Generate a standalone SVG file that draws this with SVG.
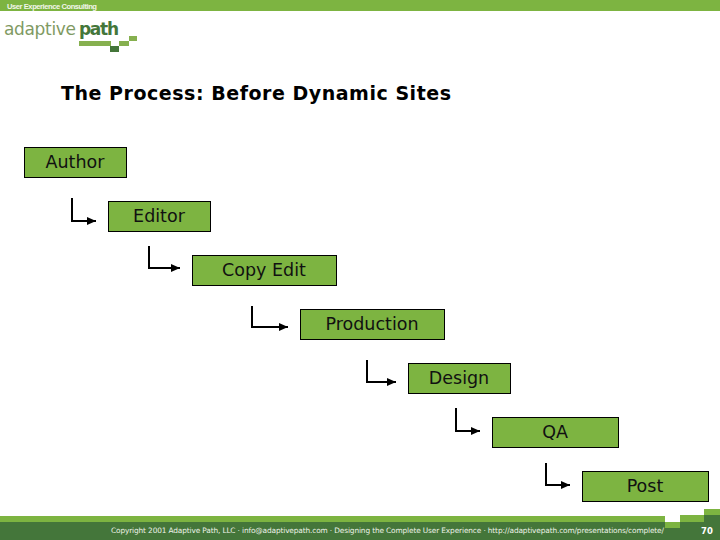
<svg xmlns="http://www.w3.org/2000/svg" width="720" height="540" viewBox="0 0 720 540">
<defs>
<marker id="arr" markerUnits="userSpaceOnUse" markerWidth="10" markerHeight="8" refX="9" refY="4" orient="auto"><path d="M0 0L9 4L0 8Z" fill="#000"/></marker>
</defs>
<style>
.box{fill:#7db441;stroke:#000;stroke-width:1}
.lbl{font-family:"DejaVu Sans",Verdana,sans-serif;font-size:17.5px;fill:#111;text-anchor:middle}
.c{fill:none;stroke:#000;stroke-width:2;marker-end:url(#arr)}
.foot{font-family:"DejaVu Sans",Verdana,sans-serif;font-size:7.4px;fill:#eef3e8}
</style>
<rect width="720" height="540" fill="#fff"/>
<g id="header">
<rect width="720" height="11" fill="#7db441"/>
<text x="7" y="9" font-family="Liberation Sans,sans-serif" font-size="7.6" font-weight="bold" fill="#f2f6ea" textLength="90">User Experience Consulting</text>
<text x="4" y="35" font-family="DejaVu Sans,sans-serif" font-size="17" fill="#7f9a63" textLength="72">adaptive</text>
<text x="79" y="35" font-family="DejaVu Sans,sans-serif" font-size="17" font-weight="bold" fill="#44763a" textLength="40">path</text>
<rect x="79" y="41" width="32" height="5" fill="#86b04f"/>
<rect x="119" y="41" width="10" height="5" fill="#86b04f"/>
<rect x="129" y="36" width="8" height="5" fill="#86b04f"/>
<rect x="110" y="46" width="9" height="6" fill="#44763a"/>
</g>
<text id="title" x="61" y="100" font-family="DejaVu Sans,sans-serif" font-size="19" font-weight="bold" fill="#000" textLength="390">The Process: Before Dynamic Sites</text>
<g id="connectors">
<path class="c" d="M72 198V221H96"/>
<path class="c" d="M149 246V268H180"/>
<path class="c" d="M252 306V327H288"/>
<path class="c" d="M367 360V382H396"/>
<path class="c" d="M456 408V431H480"/>
<path class="c" d="M546 463V485H570"/>
</g>
<g id="author"><rect class="box" x="24.500" y="147.500" width="102" height="30"/><text class="lbl" x="75" y="168">Author</text></g>
<g id="editor"><rect class="box" x="108.500" y="201.500" width="102" height="30"/><text class="lbl" x="159" y="222">Editor</text></g>
<g id="copy-edit"><rect class="box" x="192.500" y="255.500" width="144" height="30"/><text class="lbl" x="264" y="276">Copy Edit</text></g>
<g id="production"><rect class="box" x="300.500" y="309.500" width="144" height="30"/><text class="lbl" x="372" y="330">Production</text></g>
<g id="design"><rect class="box" x="408.500" y="363.500" width="102" height="30"/><text class="lbl" x="459" y="384">Design</text></g>
<g id="qa"><rect class="box" x="492.500" y="417.500" width="126" height="30"/><text class="lbl" x="555" y="438">QA</text></g>
<g id="post"><rect class="box" x="582.500" y="471.500" width="126" height="30"/><text class="lbl" x="645" y="492">Post</text></g>
<g id="footer">
<path d="M0 522H665V528H680V522H704V515H720V540H0Z" fill="#44763a"/>
<path d="M0 516H665V522H680V528H665V522H0Z" fill="#7db441"/>
<path d="M680 515H704V522H680Z" fill="#7db441"/>
<path d="M704 509H720V515H704Z" fill="#7db441"/>
<text class="foot" x="111" y="533" textLength="553">Copyright 2001 Adaptive Path, LLC · info@adaptivepath.com  ·  Designing the Complete User Experience ·  http://adaptivepath.com/presentations/complete/</text>
<text x="707" y="534" font-family="DejaVu Sans,sans-serif" font-size="8.500" font-weight="bold" fill="#fff" text-anchor="middle">70</text>
</g>
</svg>
